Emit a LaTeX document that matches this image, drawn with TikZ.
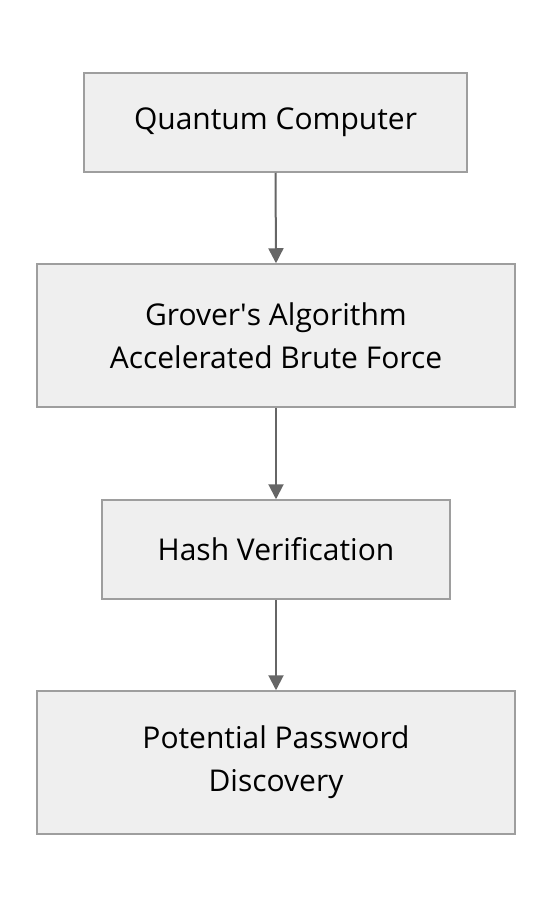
\documentclass[tikz,border=0pt]{standalone}
\usepackage{fontspec}
\setmainfont{Open Sans}
\usetikzlibrary{arrows.meta}
\definecolor{boxfill}{HTML}{EFEFEF}
\definecolor{boxline}{HTML}{9E9E9E}
\definecolor{arr}{HTML}{666666}
\begin{document}
\begin{tikzpicture}[x=1pt,y=-1pt,
  stepbox/.style={draw=boxline, fill=boxfill, line width=1.5pt, align=center,
    font=\fontsize{30}{43}\selectfont, text=black, inner sep=0pt},
  conn/.style={draw=arr, line width=2pt, -{Triangle[length=15pt,width=15pt]}}]
\useasboundingbox (0,0) rectangle (552,908);
\node[stepbox, minimum width=383pt, minimum height=99pt] (a) at (275.5,122.5) {Quantum Computer};
\node[stepbox, minimum width=478pt, minimum height=143pt] (b) at (276,335.5) {Grover\textquotesingle s Algorithm\\Accelerated Brute Force};
\node[stepbox, minimum width=348pt, minimum height=99pt] (c) at (276,549.5) {Hash Verification};
\node[stepbox, minimum width=478pt, minimum height=143pt] (d) at (276,762.5) {Potential Password\\Discovery};
\draw[conn] (a.south) -- (b.north);
\draw[conn] (b.south) -- (c.north);
\draw[conn] (c.south) -- (d.north);
\end{tikzpicture}
\end{document}
